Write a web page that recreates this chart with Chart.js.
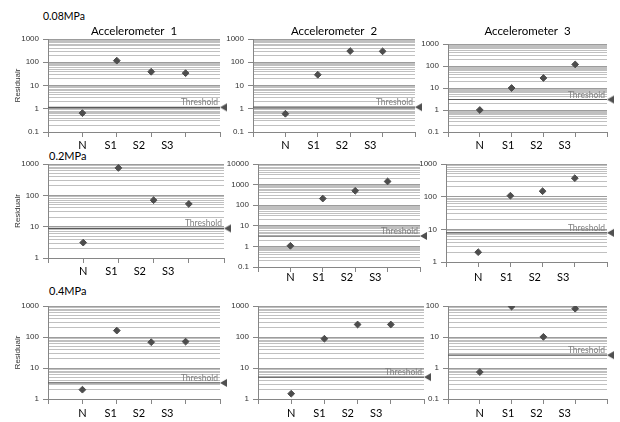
<!DOCTYPE html>
<html>
<head>
<meta charset="utf-8">
<script src="https://cdn.jsdelivr.net/npm/chart.js@4/dist/chart.umd.min.js"></script>
<style>
  html, body { margin: 0; padding: 0; background: #fff; }
  #page { position: relative; width: 620px; height: 422px; overflow: hidden; }
  #page canvas { position: absolute; }
  .mpa { position: absolute; font-family: Lato, sans-serif; color: #000; white-space: nowrap; line-height: 12px; }
</style>
</head>
<body>
<div id="page">
  <div class="mpa" style="left:43px; top:10px; font-size:10.5px">0.08MPa</div>
  <div class="mpa" style="left:49px; top:150px; font-size:11px">0.2MPa</div>
  <div class="mpa" style="left:49px; top:285px; font-size:11px">0.4MPa</div>
</div>
<script>
const categories = ['N', 'S1', 'S2', 'S3'];
const sensors = ['Accelerometer  1', 'Accelerometer  2', 'Accelerometer  3'];

// residuals, one array per accelerometer and pressure
const acc1_008 = [0.65, 117, 39, 34];
const acc2_008 = [0.61, 29, 303, 295];
const acc3_008 = [1.0, 10, 28.5, 118];
const acc1_02 = [3.1, 750, 70, 53];
const acc2_02 = [1.07, 210, 500, 1420];
const acc3_02 = [2.0, 107, 147, 368];
const acc1_04 = [2.0, 161, 68, 71];
const acc2_04 = [1.48, 88, 253, 253];
const acc3_04 = [0.74, 96, 10.1, 82];

// threshold per accelerometer
const threshold008 = [1.15, 1.17, 3.0];
const threshold02 = [8.8, 3.2, 7.8];
const threshold04 = [3.3, 5.1, 2.6];

// y axis limits [min, max]
const range008 = [[0.1, 1000], [0.1, 1000], [0.1, 1000]];
const range02 = [[1, 1000], [0.1, 10000], [1, 1000]];
const range04 = [[1, 1000], [1, 1000], [0.1, 100]];

const rows = [
  {values: [acc1_008, acc2_008, acc3_008], thr: threshold008, range: range008},
  {values: [acc1_02, acc2_02, acc3_02], thr: threshold02, range: range02},
  {values: [acc1_04, acc2_04, acc3_04], thr: threshold04, range: range04},
];

// plot areas on the page (layout only)
const plotBoxes = [
  [{l: 48, t: 39, r: 220, b: 132}, {l: 253, t: 39, r: 415, b: 132}, {l: 448, t: 44, r: 607, b: 132}],
  [{l: 48, t: 164, r: 224, b: 258}, {l: 258, t: 164, r: 420, b: 267}, {l: 446, t: 164, r: 607, b: 262}],
  [{l: 48, t: 306, r: 220, b: 399}, {l: 258, t: 306, r: 424, b: 399}, {l: 448, t: 306, r: 607, b: 399}],
];
const labelCentre = [[145, 145, 145], [271, 277, 277], [413, 413, 413]];
const labelStep = 28.3; // px between the N / S1 / S2 / S3 texts
const titleCentre = 31;

Chart.defaults.font.family = 'Lato, sans-serif';

const isDecade = v => Math.abs(Math.log10(v) - Math.round(Math.log10(v))) < 1e-6;

// left-pointing marker, tip at the centre of the image
let marker = document.createElement('canvas');
marker.width = 16; marker.height = 10;
let mg = marker.getContext('2d');
mg.fillStyle = '#505050';
mg.beginPath();
mg.moveTo(8, 5); mg.lineTo(15, 1); mg.lineTo(15, 9); mg.closePath();
mg.fill();

let thresholdText = {
  id: 'thresholdText',
  afterDatasetsDraw(chart, args, opts) {
    const {ctx, chartArea, scales} = chart;
    const y = scales.y.getPixelForValue(opts.value);
    ctx.save();
    ctx.font = '8.5px Lato, sans-serif';
    ctx.fillStyle = '#808080';
    ctx.textAlign = 'right';
    ctx.textBaseline = 'alphabetic';
    ctx.fillText('Threshold', chartArea.right - 2, y - 2);
    ctx.restore();
  }
};

let makePanel = (row, col) => {
  const box = plotBoxes[row][col];
  const values = rows[row].values[col];
  const thr = rows[row].thr[col];
  const [yMin, yMax] = rows[row].range[col];
  const hasTitle = row === 0;
  const hasYTitle = col === 0;

  const yAxisW = hasYTitle ? 48 : 40;
  const padR = 12;
  const padTop = hasTitle ? 2 : 10;
  const top = hasTitle ? Math.round(titleCentre - 6.9 - padTop) : box.t - padTop;
  const width = (box.r - box.l) + yAxisW + padR;
  const height = box.b - top + 25;

  // label axis squeezed so the texts sit labelStep apart, first one on N
  const plotW = box.r - box.l;
  const s = labelStep * 5 / plotW;
  const lMin = 1 - 1 / s;
  const lMax = lMin + 5 / s;
  const labelPad = Math.max(labelCentre[row][col] - box.b - 10.5, 0);

  const canvas = document.createElement('canvas');
  canvas.width = width;
  canvas.height = height;
  canvas.style.left = (box.l - yAxisW) + 'px';
  canvas.style.top = top + 'px';
  document.getElementById('page').appendChild(canvas);

  return new Chart(canvas, {
    type: 'scatter',
    data: {
      datasets: [
        {
          type: 'line',
          data: [{x: 0, y: thr}, {x: 5, y: thr}],
          borderColor: '#595959',
          borderWidth: 1.2,
          pointRadius: 0,
          xAxisID: 'x', yAxisID: 'y',
        },
        {
          data: categories.map((c, i) => ({x: i + 1, y: values[i]})),
          pointStyle: 'rectRot',
          pointRadius: 3.4,
          backgroundColor: '#4d4d4d',
          borderColor: '#4d4d4d',
          borderWidth: 1,
          xAxisID: 'x', yAxisID: 'y',
        },
        {
          data: [{x: 5, y: thr}],
          pointStyle: marker,
          clip: false,
          xAxisID: 'x', yAxisID: 'y',
        },
      ]
    },
    options: {
      responsive: false,
      animation: false,
      devicePixelRatio: 1,
      layout: {padding: {top: padTop, right: padR, left: 0, bottom: 0}},
      plugins: {
        legend: {display: false},
        tooltip: {enabled: false},
        title: {
          display: hasTitle,
          text: sensors[col],
          fullSize: false,
          color: '#000',
          font: {size: 11.5, weight: 'normal', lineHeight: 1.2},
          padding: {top: 0, bottom: box.t - top - padTop - 13.8},
        },
        thresholdText: {value: thr},
      },
      scales: {
        x: {
          type: 'linear',
          position: 'bottom',
          min: 0, max: 5,
          weight: 0,
          ticks: {display: false, stepSize: 1},
          grid: {drawOnChartArea: false, drawTicks: true, tickLength: 5, color: '#868686'},
          border: {color: '#868686'},
          afterFit: sc => { sc.height = 5; },
        },
        xl: {
          type: 'linear',
          position: 'bottom',
          min: lMin, max: lMax,
          weight: 1,
          afterBuildTicks: sc => { sc.ticks = categories.map((c, i) => ({value: i + 1})); },
          ticks: {
            autoSkip: false, maxRotation: 0,
            padding: labelPad,
            color: '#000',
            font: {size: 11, lineHeight: 1},
            callback: v => categories[Math.round(v) - 1],
          },
          grid: {display: false, drawTicks: false},
          border: {display: false},
          afterFit: sc => { sc.height = 20; },
        },
        y: {
          type: 'logarithmic',
          min: yMin, max: yMax,
          afterBuildTicks: sc => {
            const ticks = [];
            for (let e = Math.round(Math.log10(yMin)); e < Math.round(Math.log10(yMax)); e++) {
              for (let m = 1; m <= 9; m++) ticks.push({value: m * Math.pow(10, e)});
            }
            ticks.push({value: yMax});
            sc.ticks = ticks;
          },
          ticks: {
            autoSkip: false,
            padding: 4,
            color: '#333',
            font: {family: '"Liberation Sans", sans-serif', size: 8},
            callback: v => isDecade(v) ? String(+v.toPrecision(3)) : '',
          },
          grid: {
            color: c => isDecade(c.tick.value) ? '#9c9c9c' : '#c0c0c0',
            tickColor: c => isDecade(c.tick.value) ? '#868686' : 'rgba(0,0,0,0)',
            tickLength: 5,
            lineWidth: 1,
          },
          border: {color: '#868686'},
          title: {
            display: hasYTitle,
            text: 'Residualr',
            color: '#333',
            font: {family: '"Liberation Sans", sans-serif', size: 8},
            padding: {top: 12.7, bottom: 0},
          },
          afterFit: sc => { sc.width = yAxisW; },
        },
      },
    },
    plugins: [thresholdText],
  });
};

for (let r = 0; r < 3; r++) {
  for (let c = 0; c < 3; c++) makePanel(r, c);
}
</script>
</body>
</html>
